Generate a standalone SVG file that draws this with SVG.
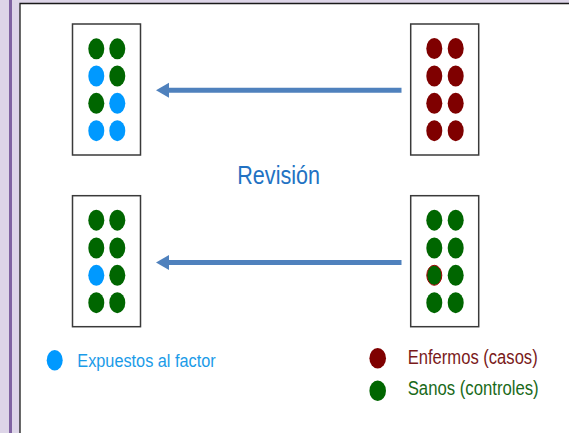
<svg xmlns="http://www.w3.org/2000/svg" width="569" height="433" viewBox="0 0 569 433">
<style>
.box{fill:#fff;stroke:#3a3a3a;stroke-width:1.5}
.g{fill:#006600}
.b{fill:#0099ff}
.r{fill:#7f0000}
.arr{stroke:#4f81bd;stroke-width:5;fill:none}
.t{font-family:"Liberation Sans",Arial,sans-serif}
</style>
<defs>
<marker id="ah" markerUnits="userSpaceOnUse" markerWidth="14" markerHeight="16" refX="0" refY="8" orient="auto" viewBox="0 0 14 16">
<path d="M13,8 L0,0.5 L0,15.5 Z" fill="#4f81bd"/>
</marker>
</defs>
<rect x="0" y="0" width="569" height="433" fill="#ddd5e8"/>
<rect x="20" y="3.5" width="549" height="430" fill="#fff"/>
<line x1="10.5" y1="0" x2="10.5" y2="433" stroke="#8064a2" stroke-width="3"/>
<path d="M20,433 V3.5 H569" fill="none" stroke="#1a1a1a" stroke-width="1.3"/>

<g id="connectors">
<line class="arr" x1="401.5" y1="90.3" x2="169" y2="90.3" marker-end="url(#ah)"/>
<line class="arr" x1="401.5" y1="262.5" x2="169" y2="262.5" marker-end="url(#ah)"/>
</g>

<g id="expuestos-casos">
<rect class="box" x="72.5" y="24" width="68" height="131"/>
<ellipse class="g" cx="96.3" cy="48.8" rx="8" ry="10.5"/>
<ellipse class="g" cx="117.3" cy="48.8" rx="8" ry="10.5"/>
<ellipse class="b" cx="96.3" cy="76" rx="8" ry="10.5"/>
<ellipse class="g" cx="117.3" cy="76" rx="8" ry="10.5"/>
<ellipse class="g" cx="96.3" cy="103.3" rx="8" ry="10.5"/>
<ellipse class="b" cx="117.3" cy="103.3" rx="8" ry="10.5"/>
<ellipse class="b" cx="96.3" cy="130.7" rx="8" ry="10.5"/>
<ellipse class="b" cx="117.3" cy="130.7" rx="8" ry="10.5"/>
</g>

<g id="casos">
<rect class="box" x="410.7" y="24" width="68" height="131"/>
<ellipse class="r" cx="434.3" cy="48.5" rx="8" ry="10.5"/>
<ellipse class="r" cx="455.7" cy="48.5" rx="8" ry="10.5"/>
<ellipse class="r" cx="434.3" cy="76" rx="8" ry="10.5"/>
<ellipse class="r" cx="455.7" cy="76" rx="8" ry="10.5"/>
<ellipse class="r" cx="434.3" cy="103.3" rx="8" ry="10.5"/>
<ellipse class="r" cx="455.7" cy="103.3" rx="8" ry="10.5"/>
<ellipse class="r" cx="434.3" cy="130.7" rx="8" ry="10.5"/>
<ellipse class="r" cx="455.7" cy="130.7" rx="8" ry="10.5"/>
</g>

<g id="revision">
<text class="t" x="237.3" y="184" font-size="26.5" fill="#2272c3" textLength="82.7" lengthAdjust="spacingAndGlyphs">Revisión</text>
</g>

<g id="expuestos-controles">
<rect class="box" x="72.5" y="195.7" width="68" height="131"/>
<ellipse class="g" cx="96.3" cy="220.2" rx="8" ry="10.5"/>
<ellipse class="g" cx="117.3" cy="220.2" rx="8" ry="10.5"/>
<ellipse class="g" cx="96.3" cy="248" rx="8" ry="10.5"/>
<ellipse class="g" cx="117.3" cy="248" rx="8" ry="10.5"/>
<ellipse class="b" cx="96.3" cy="275.3" rx="8" ry="10.5"/>
<ellipse class="g" cx="117.3" cy="275.3" rx="8" ry="10.5"/>
<ellipse class="g" cx="96.3" cy="302.7" rx="8" ry="10.5"/>
<ellipse class="g" cx="117.3" cy="302.7" rx="8" ry="10.5"/>
</g>

<g id="controles">
<rect class="box" x="410.7" y="195.7" width="68" height="131"/>
<ellipse class="g" cx="434.3" cy="220.2" rx="8" ry="10.5"/>
<ellipse class="g" cx="455.7" cy="220.2" rx="8" ry="10.5"/>
<ellipse class="g" cx="434.3" cy="248" rx="8" ry="10.5"/>
<ellipse class="g" cx="455.7" cy="248" rx="8" ry="10.5"/>
<ellipse class="g" cx="434.3" cy="275.3" rx="7.5" ry="10" stroke="#a00000" stroke-width="1"/>
<ellipse class="g" cx="455.7" cy="275.3" rx="8" ry="10.5"/>
<ellipse class="g" cx="434.3" cy="302.7" rx="8" ry="10.5"/>
<ellipse class="g" cx="455.7" cy="302.7" rx="8" ry="10.5"/>
</g>

<g id="legend-expuestos">
<ellipse class="b" cx="54.7" cy="360.3" rx="8" ry="10.3"/>
<text class="t" x="77.3" y="366.7" font-size="17.5" fill="#1a9be8" textLength="138.4" lengthAdjust="spacingAndGlyphs">Expuestos al factor</text>
</g>
<g id="legend-enfermos">
<ellipse class="r" cx="377.7" cy="358.3" rx="8.3" ry="10.2"/>
<text class="t" x="407.7" y="364" font-size="20" fill="#7a1a1a" textLength="130" lengthAdjust="spacingAndGlyphs">Enfermos (casos)</text>
</g>
<g id="legend-sanos">
<ellipse class="g" cx="377.7" cy="390.8" rx="8.3" ry="10.2"/>
<text class="t" x="407.7" y="395" font-size="20" fill="#1a6a1a" textLength="131" lengthAdjust="spacingAndGlyphs">Sanos (controles)</text>
</g>
</svg>
